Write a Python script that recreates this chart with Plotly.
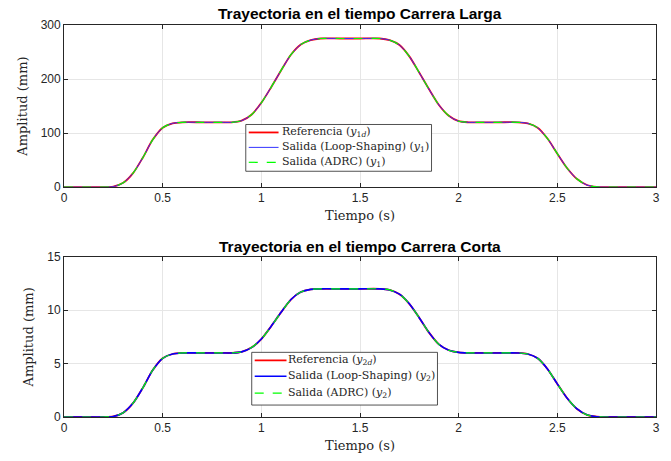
import plotly.graph_objects as go
from plotly.subplots import make_subplots

# time samples (s)
t = [0.00, 0.10, 0.20, 0.25, 0.30, 0.35, 0.40, 0.45, 0.50, 0.55, 0.60, 0.70, 0.80, 0.85,
     0.90, 0.95, 1.00, 1.05, 1.10, 1.15, 1.20, 1.25, 1.30, 1.40, 1.50, 1.60, 1.65, 1.70,
     1.75, 1.80, 1.85, 1.90, 1.95, 2.00, 2.05, 2.10, 2.20, 2.30, 2.35, 2.40, 2.45, 2.50,
     2.55, 2.60, 2.65, 2.70, 2.75, 2.80, 2.90, 3.00]

# Carrera Larga (mm)
y_long = [0, 0, 0, 1, 8, 26, 55, 88, 110, 118, 120, 120, 120, 120,
          123, 134, 156, 185, 216, 245, 264, 272, 275, 275, 275, 275, 272, 263,
          242, 212, 181, 152, 132, 122, 120, 120, 120, 120, 118, 110, 90, 62,
          35, 15, 4, 0.5, 0, 0, 0, 0]

# Carrera Corta (mm)
y_short = [0, 0, 0, 0.05, 0.4, 1.3, 2.75, 4.4, 5.5, 5.9, 6, 6, 6, 6,
           6.1, 6.5, 7.3, 8.5, 9.8, 11.0, 11.7, 11.95, 12, 12, 12, 12, 11.9, 11.5,
           10.6, 9.3, 7.9, 6.8, 6.25, 6.05, 6, 6, 6, 6, 5.9, 5.5, 4.5, 3.1,
           1.75, 0.75, 0.2, 0.03, 0, 0, 0, 0]

x_ticks = [0, 0.5, 1, 1.5, 2, 2.5, 3]
x_tick_text = ["0", "0.5", "1", "1.5", "2", "2.5", "3"]
y_ticks_long = [0, 100, 200, 300]
y_ticks_short = [0, 5, 10, 15]

titles = ["Trayectoria en el tiempo Carrera Larga", "Trayectoria en el tiempo Carrera Corta"]
names_long = ["Referencia (<i>y</i><sub>1<i>d</i></sub>)",
              "Salida (Loop-Shaping) (<i>y</i><sub>1</sub>)",
              "Salida (ADRC) (<i>y</i><sub>1</sub>)"]
names_short = ["Referencia (<i>y</i><sub>2<i>d</i></sub>)",
               "Salida (Loop-Shaping) (<i>y</i><sub>2</sub>)",
               "Salida (ADRC) (<i>y</i><sub>2</sub>)"]

SERIF = "DejaVu Serif, Liberation Serif, serif"
SANS = "Liberation Sans, Arial, sans-serif"

W, H = 671, 461
ML, MR, MT, MB = 64, 11, 25, 42
PW, PH = W - ML - MR, H - MT - MB


def px_x(p):
    return (p - ML) / PW


def px_y(p):
    return (H - MB - p) / PH


fig = make_subplots(rows=2, cols=1, vertical_spacing=0.1)

styles_long = [dict(color="#ff0000", width=1.8),
               dict(color="#3333ff", width=1),
               dict(color="#00ff00", width=1.2, dash="dash")]
styles_short = [dict(color="#ff0000", width=1.8),
                dict(color="#0000ff", width=1.6),
                dict(color="#00ff00", width=1.2, dash="dash")]

for row, (yv, names, styles) in enumerate([(y_long, names_long, styles_long),
                                           (y_short, names_short, styles_short)], start=1):
    for i in range(3):
        fig.add_trace(go.Scatter(x=t, y=yv, mode="lines", name=names[i], showlegend=False,
                                 line=dict(shape="spline", smoothing=0.8, **styles[i])),
                      row=row, col=1)

axis_common = dict(showgrid=True, gridcolor="#e6e6e6", gridwidth=1,
                   showline=True, linecolor="#262626", linewidth=0.8, mirror="ticks",
                   ticks="inside", ticklen=4, tickcolor="#262626", zeroline=False,
                   tickfont=dict(family=SANS, size=12, color="#262626"))

title_font = dict(family=SERIF, size=13, color="#262626")
fig.update_xaxes(range=[0, 3], tickvals=x_ticks, ticktext=x_tick_text,
                 title=dict(text="Tiempo (s)", font=title_font, standoff=6), **axis_common)
fig.update_yaxes(row=1, col=1, range=[0, 300], tickvals=y_ticks_long,
                 title=dict(text="Amplitud (mm)", font=title_font, standoff=10), **axis_common)
fig.update_yaxes(row=2, col=1, range=[0, 15], tickvals=y_ticks_short,
                 title=dict(text="Amplitud (mm)", font=title_font, standoff=10), **axis_common)

fig.update_layout(
    xaxis=dict(domain=[0, 1]), yaxis=dict(domain=[px_y(188), px_y(25)]),
    xaxis2=dict(domain=[0, 1]), yaxis2=dict(domain=[px_y(419), px_y(258)]),
)


def add_legend(box, rows_y, sample_x, text_x, names, styles):
    x0, y0, x1, y1 = box
    fig.add_shape(type="rect", xref="paper", yref="paper",
                  x0=px_x(x0), x1=px_x(x1), y0=px_y(y0), y1=px_y(y1),
                  line=dict(color="#262626", width=0.8), fillcolor="white", layer="above")
    for ry, name, st in zip(rows_y, names, styles):
        fig.add_shape(type="line", xref="paper", yref="paper",
                      x0=px_x(sample_x[0]), x1=px_x(sample_x[1]), y0=px_y(ry), y1=px_y(ry),
                      line=dict(color=st["color"], width=st["width"], dash=st.get("dash", "solid")),
                      layer="above")
        fig.add_annotation(text=name, xref="paper", yref="paper", x=px_x(text_x), y=px_y(ry),
                           xanchor="left", yanchor="middle", showarrow=False,
                           font=dict(family=SERIF, size=11, color="#262626"))


add_legend((247, 125, 434, 172), (133, 148, 163), (250, 280), 281, names_long, styles_long)
add_legend((253, 354, 440, 407), (362, 378, 395), (256, 288), 288, names_short, styles_short)

fig.add_annotation(text="<b>" + titles[0] + "</b>", x=0.5, y=px_y(3), xref="paper", yref="paper",
                   xanchor="center", yanchor="top", showarrow=False,
                   font=dict(family=SANS, size=15.5, color="black"))
fig.add_annotation(text="<b>" + titles[1] + "</b>", x=0.5, y=px_y(237), xref="paper", yref="paper",
                   xanchor="center", yanchor="top", showarrow=False,
                   font=dict(family=SANS, size=15.5, color="black"))

fig.update_layout(width=W, height=H, margin=dict(l=ML, r=MR, t=MT, b=MB),
                  plot_bgcolor="white", paper_bgcolor="white")

fig.write_html("out.html")
